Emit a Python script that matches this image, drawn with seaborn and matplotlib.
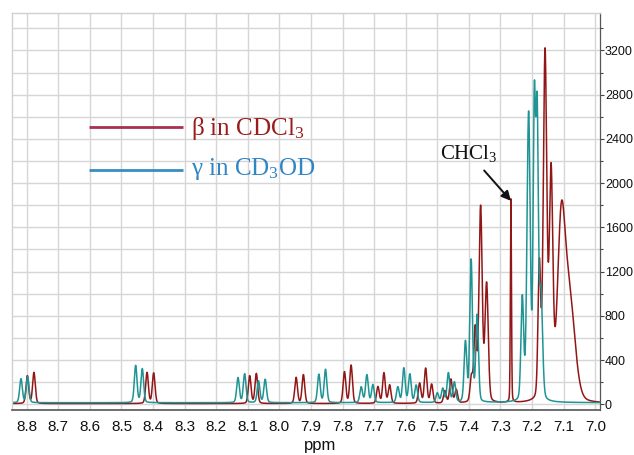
import numpy as np
import pandas as pd
import matplotlib
matplotlib.use("Agg")
import matplotlib.pyplot as plt
from matplotlib import font_manager
from matplotlib.ticker import MultipleLocator, FormatStrFormatter
import seaborn as sns

# ---- peak tables (chemical shift in ppm, peak height, line width in ppm) ----
beta_ppm = [8.798, 8.777, 8.419, 8.398, 8.094, 8.073, 7.947, 7.924,
            7.794, 7.773, 7.688, 7.669, 7.651, 7.556, 7.537, 7.518,
            7.476, 7.457, 7.440, 7.392, 7.380, 7.363, 7.344, 7.267,
            7.177, 7.159, 7.140, 7.108, 7.083]
beta_height = [250, 280, 280, 275, 250, 270, 235, 260,
               285, 345, 150, 275, 165, 180, 315, 170,
               110, 215, 120, 220, 650, 1760, 1060, 1840,
               1200, 3120, 2000, 1420, 950]
beta_width = [0.010, 0.010, 0.010, 0.010, 0.010, 0.010, 0.010, 0.010,
              0.010, 0.010, 0.010, 0.010, 0.010, 0.010, 0.010, 0.010,
              0.010, 0.010, 0.010, 0.010, 0.010, 0.012, 0.012, 0.004,
              0.010, 0.013, 0.013, 0.028, 0.042]

gamma_ppm = [8.818, 8.797, 8.455, 8.434, 8.131, 8.110, 8.066, 8.045,
             7.875, 7.854, 7.741, 7.723, 7.704, 7.625, 7.606, 7.587,
             7.567, 7.500, 7.483, 7.465, 7.446, 7.411, 7.393, 7.374,
             7.231, 7.211, 7.193, 7.184, 7.172]
gamma_height = [215, 235, 335, 305, 225, 260, 195, 210,
                255, 300, 140, 250, 160, 140, 310, 255,
                155, 85, 125, 265, 180, 540, 1280, 780,
                920, 2580, 2600, 2450, 950]
gamma_width = [0.010, 0.010, 0.010, 0.010, 0.010, 0.010, 0.010, 0.010,
               0.010, 0.010, 0.010, 0.010, 0.010, 0.010, 0.010, 0.010,
               0.010, 0.010, 0.010, 0.010, 0.010, 0.010, 0.010, 0.010,
               0.010, 0.012, 0.009, 0.009, 0.012]

beta_baseline = 6
gamma_baseline = 14

chcl3_ppm = 7.267
chcl3_height = 1840

x_ticks_step = 0.1
y_ticks_step = 400

series_names = ["β in CDCl$_3$", "γ in CD$_3$OD"]


def pick_font(candidates):
    names = {f.name for f in font_manager.fontManager.ttflist}
    for c in candidates:
        if c in names:
            return c
    return "DejaVu Sans"


def build_spectrum(grid, centers, heights, widths, base, eta=0.2):
    y = np.full_like(grid, float(base))
    for c, h, w in zip(centers, heights, widths):
        d = (grid - c) / (w / 2.0)
        gauss = np.exp(-np.log(2.0) * d ** 2)
        lorentz = 1.0 / (1.0 + d ** 2)
        y += h * ((1 - eta) * gauss + eta * lorentz)
    return y


grid = np.linspace(8.86, 6.975, 9000)
beta_y = build_spectrum(grid, beta_ppm, beta_height, beta_width, beta_baseline)
gamma_y = build_spectrum(grid, gamma_ppm, gamma_height, gamma_width, gamma_baseline)

df = pd.concat([
    pd.DataFrame({"ppm": grid, "intensity": beta_y, "sample": "beta"}),
    pd.DataFrame({"ppm": grid, "intensity": gamma_y, "sample": "gamma"}),
], ignore_index=True)

sns.set_style("white")
tick_font = pick_font(["Liberation Sans Narrow", "Liberation Sans", "DejaVu Sans"])
serif_font = pick_font(["Liberation Serif", "DejaVu Serif"])
plt.rcParams["font.family"] = [tick_font, "DejaVu Sans"]
plt.rcParams["mathtext.default"] = "regular"

fig = plt.figure(figsize=(6.34, 4.55), dpi=100)
ax = fig.add_axes([12 / 634, 45 / 455, 588 / 634, 397 / 455])

spec_colors = {"beta": "#931616", "gamma": "#1f9494"}
sns.lineplot(data=df, x="ppm", y="intensity", hue="sample",
             hue_order=["beta", "gamma"], palette=spec_colors,
             estimator=None, sort=False, legend=False,
             linewidth=1.1, ax=ax)

ax.set_xlim(8.8465, 6.985)
ax.set_ylim(-52, 3539)

ax.xaxis.set_major_locator(MultipleLocator(x_ticks_step))
ax.xaxis.set_minor_locator(MultipleLocator(x_ticks_step / 2))
ax.xaxis.set_major_formatter(FormatStrFormatter("%.1f"))
ax.yaxis.tick_right()
ax.yaxis.set_major_locator(MultipleLocator(y_ticks_step))
ax.yaxis.set_minor_locator(MultipleLocator(y_ticks_step / 2))
ax.yaxis.set_major_formatter(FormatStrFormatter("%d"))

ax.grid(which="major", axis="x", color="#d6d6d6", linewidth=1.0)
ax.grid(which="both", axis="y", color="#d6d6d6", linewidth=1.0)
ax.set_axisbelow(True)

ax.tick_params(axis="x", which="major", length=4, width=0.8, color="#444444",
               labelsize=11, pad=3, labelcolor="#111111")
ax.tick_params(axis="x", which="minor", length=2.5, width=0.8, color="#444444")
ax.tick_params(axis="y", which="major", length=3, width=0.8, color="#444444",
               labelsize=9, pad=0.5, labelcolor="#111111")
ax.tick_params(axis="y", which="minor", length=2, width=0.8, color="#444444")

for side in ("left", "top"):
    ax.spines[side].set_color("#d0d0d0")
    ax.spines[side].set_linewidth(1.0)
ax.spines["right"].set_color("#555555")
ax.spines["bottom"].set_color("#555555")
ax.spines["right"].set_linewidth(0.9)
ax.spines["bottom"].set_linewidth(1.2)

ax.set_xlabel("")
ax.set_ylabel("")
ax.text(0.524, -0.1, "ppm", transform=ax.transAxes, fontsize=12,
        color="#111111", ha="center", va="baseline")

# legend lines and labels
legend_line_colors = ["#a8304f", "#3a8dc0"]
legend_text_colors = ["#9b1c1c", "#2f86c4"]
legend_y = [0.713, 0.605]
legend_text_y = [0.6927, 0.592]
for name, lc, tc, ly, ty in zip(series_names, legend_line_colors,
                                legend_text_colors, legend_y, legend_text_y):
    ax.plot([0.131, 0.290], [ly, ly], transform=ax.transAxes,
            color=lc, linewidth=2.0, solid_capstyle="butt")
    ax.text(0.305, ty, name, transform=ax.transAxes, color=tc,
            fontsize=18, family=serif_font, ha="left", va="baseline")

# solvent residual annotation
ax.annotate("CHCl$_3$", xy=(chcl3_ppm, chcl3_height),
            xytext=(-30, 34), textcoords="offset points",
            ha="center", va="center", fontsize=15, family=serif_font,
            color="#111111",
            arrowprops=dict(arrowstyle="-|>", color="#111111", lw=1.4,
                            mutation_scale=14, shrinkA=3, shrinkB=0))

fig.savefig("out.png", dpi=100)
